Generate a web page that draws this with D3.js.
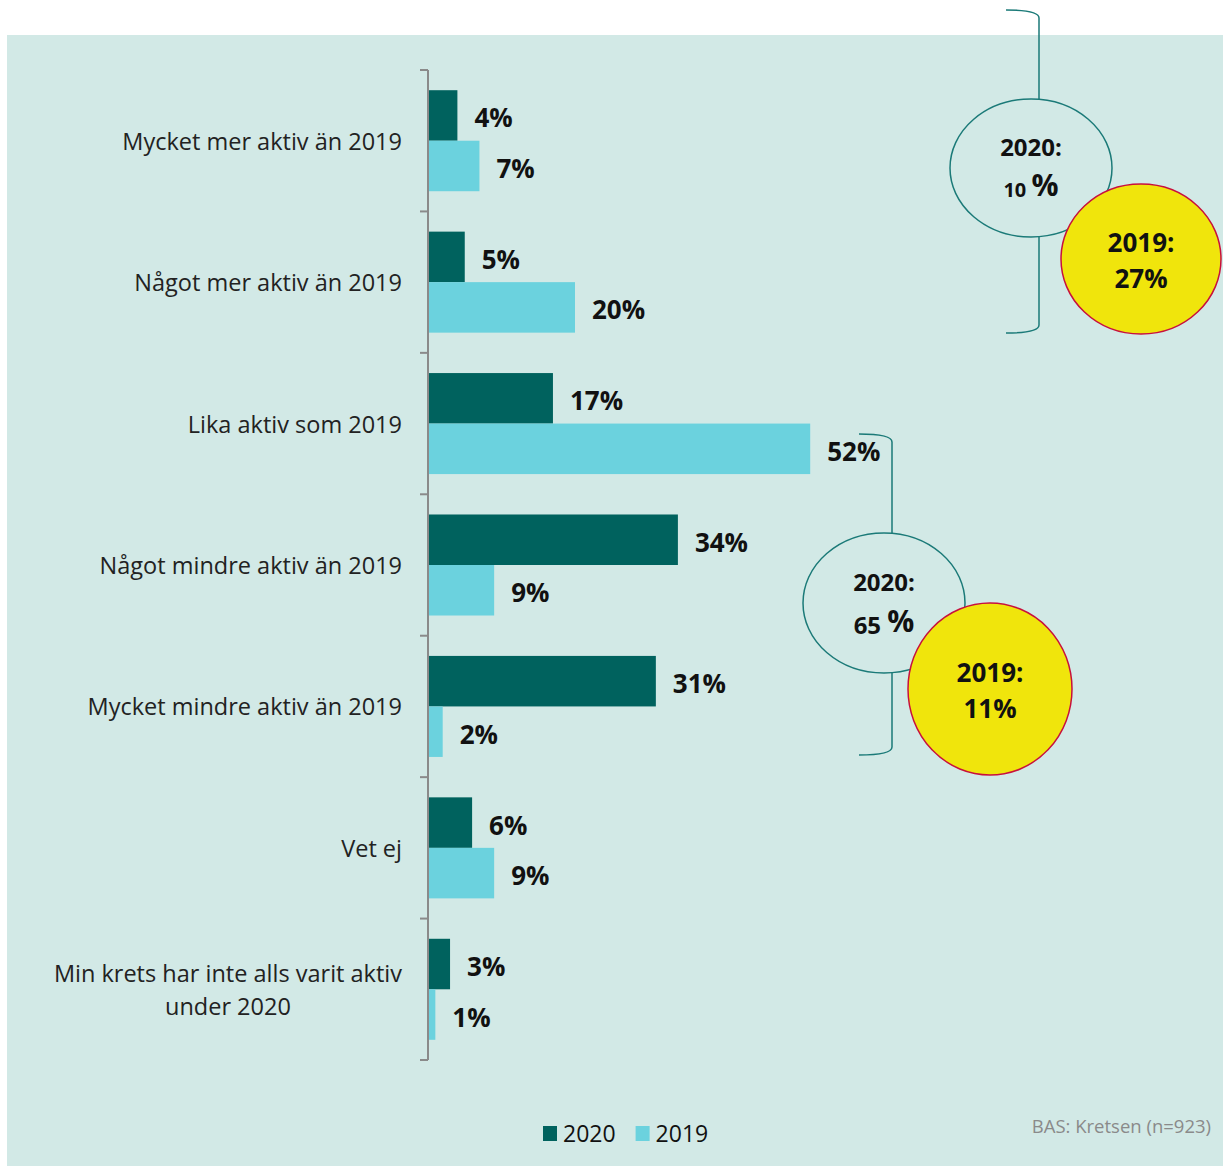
<!DOCTYPE html>
<html>
<head>
<meta charset="utf-8">
<script src="https://cdn.jsdelivr.net/npm/d3@7"></script>
<style>
body { margin: 0; background: #fff; }
svg text { font-family: "Open Sans", sans-serif; }
</style>
</head>
<body>
<script>
// data
var categories = ["Mycket mer aktiv än 2019", "Något mer aktiv än 2019", "Lika aktiv som 2019",
  "Något mindre aktiv än 2019", "Mycket mindre aktiv än 2019", "Vet ej",
  "Min krets har inte alls varit aktiv under 2020"];
var series = ["2020", "2019"];
var values2020 = [4, 5, 17, 34, 31, 6, 3];
var values2019 = [7, 20, 52, 9, 2, 9, 1];
var seriesColors = ["#00625e", "#6bd2de"];

// summary bubbles: first = "mer aktiv" (rows 0-1), second = "mindre aktiv" (rows 3-4)
var sum2020 = [10, 65];
var sum2019 = [27, 11];

var width = 1223, height = 1166;
var bg = "#d2e9e6";

var svg = d3.select("body").append("svg").attr("width", width).attr("height", height);

svg.append("rect").attr("x", 7).attr("y", 35).attr("width", width - 7).attr("height", height - 35)
  .attr("fill", bg);

var y = d3.scaleBand().domain(categories).range([70, 1060]).paddingInner(0).paddingOuter(0);
var ySub = d3.scaleBand().domain(series).range([0, y.bandwidth()]).paddingInner(0).paddingOuter(0.4);
var x = d3.scaleLinear().domain([0, 100]).range([428, 428 + 735]);

// axis line with ticks at band edges
var axisX = x(0);
var edges = categories.map(function(c) { return y(c); }).concat([y.range()[1]]);
svg.append("line").attr("x1", axisX).attr("x2", axisX).attr("y1", edges[0]).attr("y2", edges[edges.length - 1])
  .attr("stroke", "#8a8a8a").attr("stroke-width", 2);
svg.selectAll(".tick").data(edges).enter().append("line")
  .attr("x1", axisX - 8).attr("x2", axisX).attr("y1", function(d) { return d; }).attr("y2", function(d) { return d; })
  .attr("stroke", "#8a8a8a").attr("stroke-width", 2);

// bars
var rows = [];
categories.forEach(function(c, i) {
  rows.push({cat: c, s: "2020", v: values2020[i], col: seriesColors[0]});
  rows.push({cat: c, s: "2019", v: values2019[i], col: seriesColors[1]});
});

svg.selectAll(".bar").data(rows).enter().append("rect")
  .attr("x", axisX + 1)
  .attr("y", function(d) { return y(d.cat) + ySub(d.s); })
  .attr("width", function(d) { return x(d.v) - axisX - 1; })
  .attr("height", ySub.bandwidth())
  .attr("fill", function(d) { return d.col; });

svg.selectAll(".val").data(rows).enter().append("text")
  .attr("x", function(d) { return x(d.v) + 17; })
  .attr("y", function(d) { return y(d.cat) + ySub(d.s) + ySub.bandwidth() / 2 + 2; })
  .attr("dominant-baseline", "central")
  .attr("font-size", 26).attr("font-weight", "bold").attr("fill", "#111")
  .text(function(d) { return d.v + "%"; });

// category labels
categories.forEach(function(c, i) {
  var cy = y(c) + y.bandwidth() / 2;
  if (c.indexOf("under 2020") > 0) {
    var t = svg.append("text").attr("font-size", 23.5).attr("fill", "#222").attr("text-anchor", "end")
      .attr("x", 402).attr("y", cy - 16).attr("dominant-baseline", "central").text("Min krets har inte alls varit aktiv");
    var w = t.node().getComputedTextLength();
    svg.append("text").attr("font-size", 23.5).attr("fill", "#222").attr("text-anchor", "middle")
      .attr("x", 402 - w / 2).attr("y", cy + 17).attr("dominant-baseline", "central").text("under 2020");
  } else {
    svg.append("text").attr("font-size", 23.5).attr("fill", "#222").attr("text-anchor", "end")
      .attr("x", 402).attr("y", cy).attr("dominant-baseline", "central").text(c);
  }
});

// brackets and bubbles
var bubbleSpecs = [
  {bx: 1039, top: 10, bot: 333, ex: 1031, ey: 168, erx: 81, ery: 69, cx: 1141, cy: 259, crx: 80, cry: 75, small: true},
  {bx: 892, top: 434, bot: 755, ex: 884, ey: 603, erx: 81, ery: 70, cx: 990, cy: 689, crx: 82, cry: 86, small: false}
];

bubbleSpecs.forEach(function(b, i) {
  var r = 8;
  var path = "M" + (b.bx - 33) + "," + b.top +
    " Q" + b.bx + "," + b.top + " " + b.bx + "," + (b.top + r) +
    " L" + b.bx + "," + (b.bot - r) +
    " Q" + b.bx + "," + b.bot + " " + (b.bx - 33) + "," + b.bot;
  svg.append("path").attr("d", path).attr("fill", "none").attr("stroke", "#1b7a78").attr("stroke-width", 1.5);

  svg.append("ellipse").attr("cx", b.ex).attr("cy", b.ey).attr("rx", b.erx).attr("ry", b.ery)
    .attr("fill", bg).attr("stroke", "#1b7a78").attr("stroke-width", 1.5);
  svg.append("text").attr("x", b.ex).attr("y", b.ey - 22).attr("text-anchor", "middle").attr("dominant-baseline", "central")
    .attr("font-size", 24).attr("font-weight", "bold").attr("fill", "#111").text("2020:");
  var t2 = svg.append("text").attr("x", b.ex).attr("y", b.ey + 20).attr("text-anchor", "middle")
    .attr("font-weight", "bold").attr("fill", "#111");
  t2.append("tspan").attr("font-size", b.small ? 20 : 24).attr("dy", "0.45em").text(sum2020[i] + " ");
  t2.append("tspan").attr("font-size", 30).attr("dy", "-0.05em").text("%");

  svg.append("ellipse").attr("cx", b.cx).attr("cy", b.cy).attr("rx", b.crx).attr("ry", b.cry)
    .attr("fill", "#f0e50c").attr("stroke", "#c8103c").attr("stroke-width", 1.5);
  svg.append("text").attr("x", b.cx).attr("y", b.cy - 17).attr("text-anchor", "middle").attr("dominant-baseline", "central")
    .attr("font-size", 26).attr("font-weight", "bold").attr("fill", "#111").text("2019:");
  svg.append("text").attr("x", b.cx).attr("y", b.cy + 19).attr("text-anchor", "middle").attr("dominant-baseline", "central")
    .attr("font-size", 26).attr("font-weight", "bold").attr("fill", "#111").text(sum2019[i] + "%");
});

// legend
var lg = svg.append("g");
var lx = 543;
series.forEach(function(s, i) {
  lg.append("rect").attr("x", lx).attr("y", 1126).attr("width", 14).attr("height", 15).attr("fill", seriesColors[i]);
  var t = lg.append("text").attr("x", lx + 20).attr("y", 1133).attr("dominant-baseline", "central")
    .attr("font-size", 23).attr("fill", "#111").text(s);
  lx = lx + 20 + t.node().getComputedTextLength() + 20;
});

svg.append("text").attr("x", 1211).attr("y", 1125).attr("text-anchor", "end").attr("dominant-baseline", "central")
  .attr("font-size", 18.5).attr("fill", "#8a8a8a").text("BAS: Kretsen (n=923)");
</script>
</body>
</html>
